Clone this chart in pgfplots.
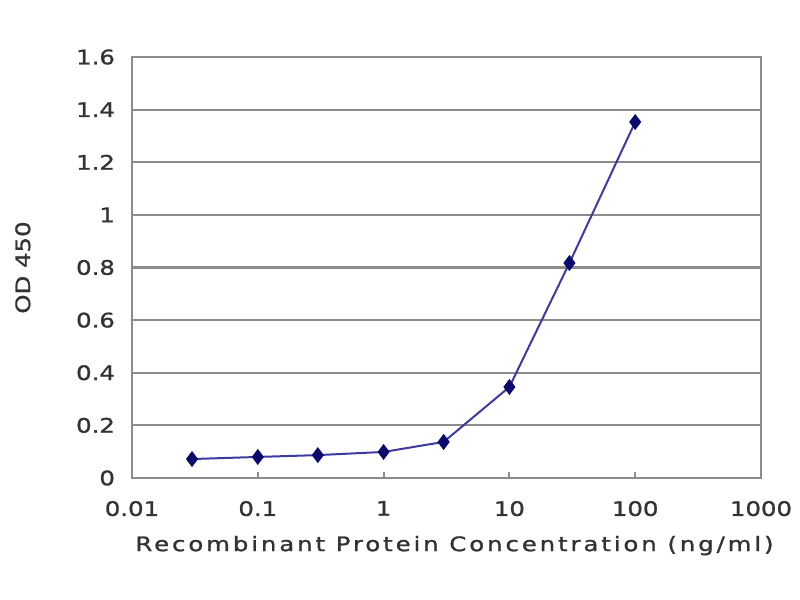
\documentclass[border=0pt]{standalone}
\usepackage{fontspec}
\setmainfont{DejaVu Sans}[FakeStretch=1.22, FakeBold=1.2]
\newfontfamily\labelfont{DejaVu Sans}[FakeStretch=1.22, FakeBold=1.2, LetterSpace=14.5]
\usepackage{pgfplots}
\pgfplotsset{compat=1.18}
\definecolor{gridgray}{RGB}{140,140,140}
\definecolor{linenavy}{RGB}{60,60,160}
\definecolor{marknavy}{RGB}{10,10,110}
\begin{document}
\begin{tikzpicture}
\path[use as bounding box, fill=white] (0,0) rectangle (400pt,300pt);
\begin{axis}[
    at={(66pt,61pt)}, anchor=south west,
    scale only axis, width=314.5pt, height=210.5pt,
    xmode=log, log basis x=10,
    xmin=0.01, xmax=1000, ymin=0, ymax=1.6,
    xtick={0.01,0.1,1,10,100,1000},
    xticklabels={0.01,0.1,1,10,100,1000},
    minor xtick={},
    ytick={0,0.2,...,1.6},
    ymajorgrids, grid style={gridgray, line width=1.1pt},
    axis line style={gridgray, line width=1.3pt},
    x tick style={gridgray, line width=1pt}, major tick length=3pt,
    tick align=inside, ytick style={draw=none},
    xtick pos=bottom,
    /pgf/number format/assume math mode=true,
    ticklabel style={font=\fontsize{10}{12}\selectfont, text=black!80},
    yticklabel style={xshift=-5pt},
    xticklabel style={yshift=-8pt},
    xlabel={Recombinant Protein Concentration (ng/ml)},
    ylabel={OD 450},
    xlabel style={font=\labelfont\fontsize{10}{12}\selectfont, text=black!80, yshift=-3pt, xshift=4pt},
    ylabel style={font=\fontsize{10}{12}\selectfont, text=black!80, yshift=16pt},
  ]
  \addplot[linenavy, line width=1pt, mark=diamond*, mark size=3.2pt,
    mark options={marknavy, fill=marknavy}] coordinates {
    (0.03, 0.072)
    (0.1, 0.080)
    (0.3, 0.087)
    (1, 0.099)
    (3, 0.137)
    (10, 0.346)
    (30, 0.817)
    (100, 1.353)};
\end{axis}
\end{tikzpicture}
\end{document}
